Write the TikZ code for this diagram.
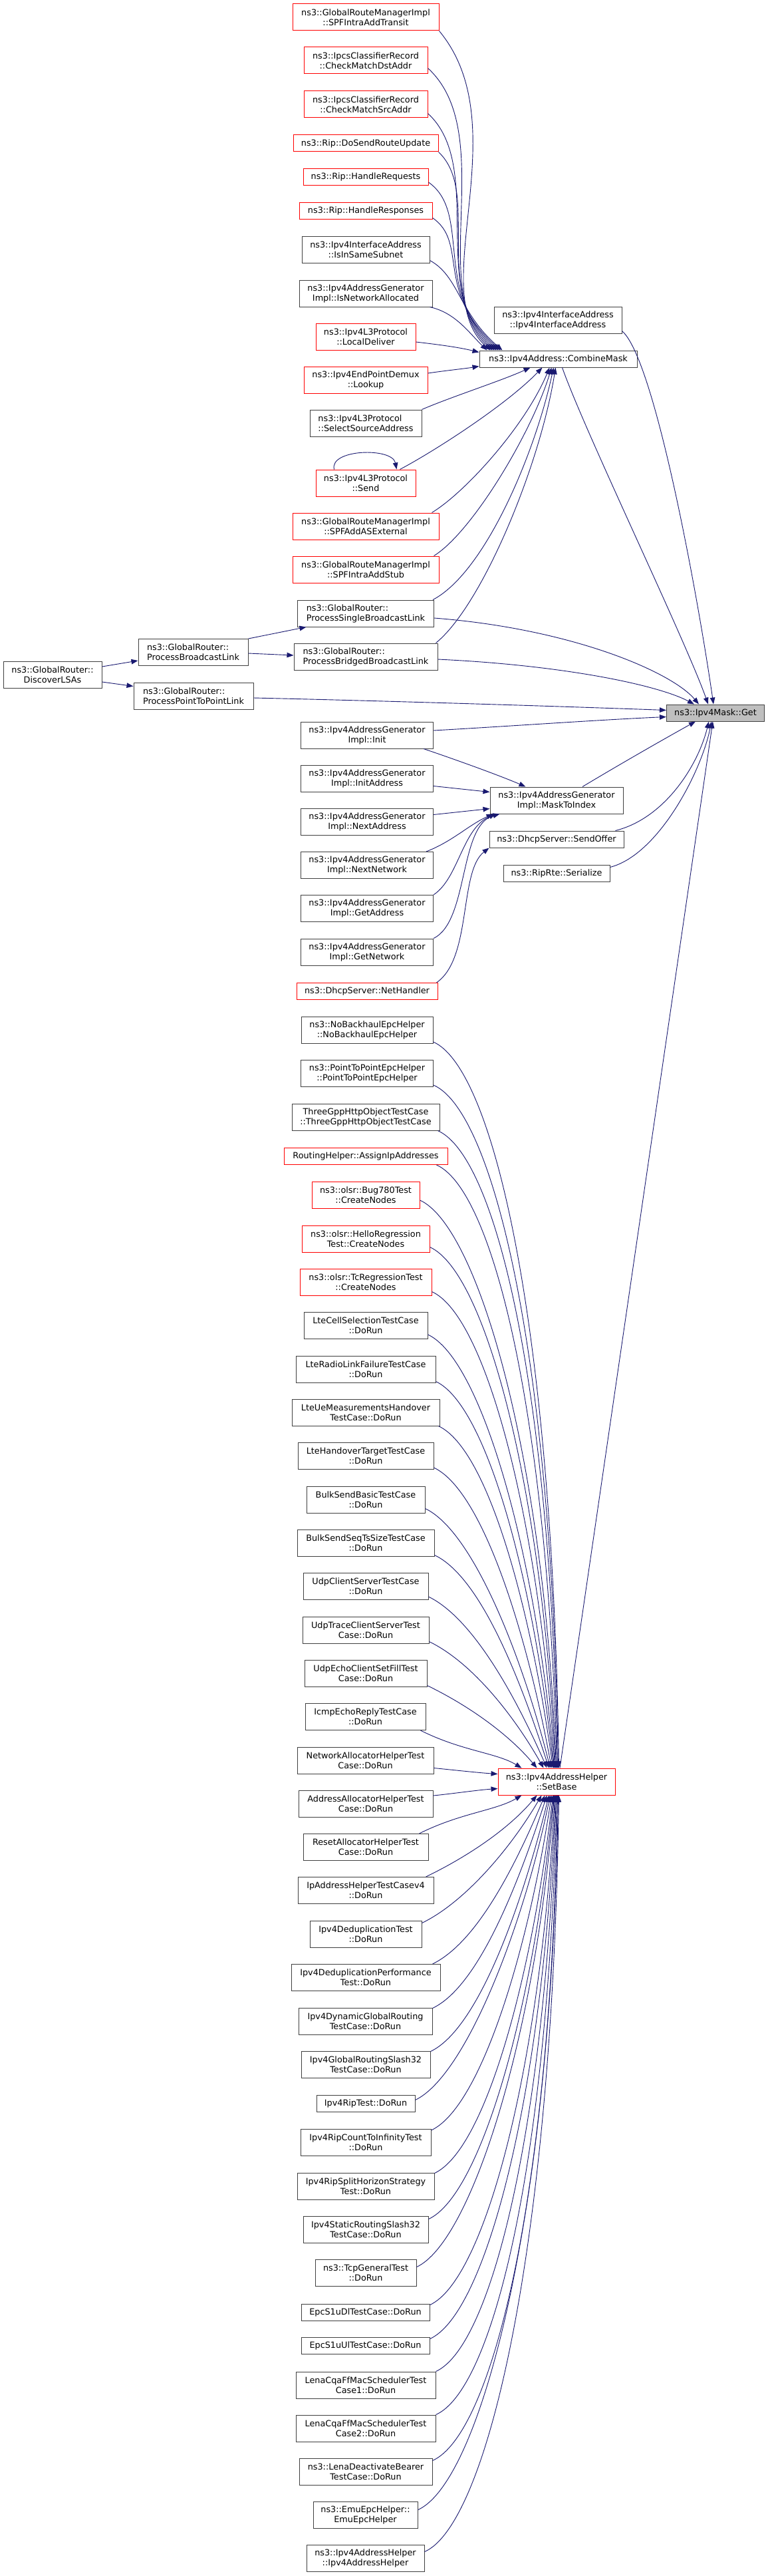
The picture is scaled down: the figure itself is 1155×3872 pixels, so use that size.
\documentclass[tikz,border=0pt]{standalone}
\usepackage{fontspec}
\setmainfont{DejaVu Sans}
\usetikzlibrary{arrows.meta}
\definecolor{edgec}{HTML}{191970}
\definecolor{redc}{HTML}{FF0000}
\definecolor{boxc}{HTML}{404040}
\definecolor{rootc}{HTML}{BFBFBF}
\tikzset{
  fn/.style={draw=boxc, line width=1pt, fill=white, rectangle, inner sep=0pt,
    minimum height=40pt, align=center, font=\fontsize{12.8}{15}\selectfont},
  one/.style={minimum height=25pt},
  rd/.style={draw=redc},
  rootnode/.style={fill=rootc},
  lft/.style={align=left},
  edge/.style={draw=edgec, line width=0.9pt, -{Triangle[length=10pt,width=7.5pt]}},
}
\begin{document}
\begin{tikzpicture}[x=1pt,y=-1pt]
\fill[white] (0,0) rectangle (1155,3872);
\useasboundingbox (0,0) rectangle (1155,3872);

% ---------- upper callers of CombineMask ----------
\node[fn,rd,minimum width=220pt] (n1) at (550,26) {ns3::GlobalRouteManagerImpl\\::SPFIntraAddTransit};
\node[fn,rd,minimum width=186pt] (n2) at (550,91) {ns3::IpcsClassifierRecord\\::CheckMatchDstAddr};
\node[fn,rd,minimum width=186pt] (n3) at (550,157) {ns3::IpcsClassifierRecord\\::CheckMatchSrcAddr};
\node[fn,rd,one,minimum width=218pt] (n4) at (550,215.5) {ns3::Rip::DoSendRouteUpdate};
\node[fn,rd,one,minimum width=188pt] (n5) at (550,266) {ns3::Rip::HandleRequests};
\node[fn,rd,one,minimum width=200pt] (n6) at (550,316.5) {ns3::Rip::HandleResponses};
\node[fn,minimum width=192pt] (n7) at (550,375) {ns3::Ipv4InterfaceAddress\\::IsInSameSubnet};
\node[fn,minimum width=200pt] (n8) at (550,441) {ns3::Ipv4AddressGenerator\\Impl::IsNetworkAllocated};
\node[fn,rd,minimum width=150pt] (n9) at (550,506) {ns3::Ipv4L3Protocol\\::LocalDeliver};
\node[fn,rd,minimum width=186pt] (n10) at (550,571) {ns3::Ipv4EndPointDemux\\::Lookup};
\node[fn,lft,minimum width=168pt] (n11) at (550,636) {ns3::Ipv4L3Protocol\\::SelectSourceAddress};
\node[fn,rd,minimum width=150pt] (n12) at (550,726) {ns3::Ipv4L3Protocol\\::Send};
\node[fn,rd,minimum width=220pt] (n13) at (550,791) {ns3::GlobalRouteManagerImpl\\::SPFAddASExternal};
\node[fn,rd,minimum width=220pt] (n14) at (550,856) {ns3::GlobalRouteManagerImpl\\::SPFIntraAddStub};
\node[fn,lft,minimum width=205pt] (psbl) at (550,922) {ns3::GlobalRouter::\\ProcessSingleBroadcastLink};
\node[fn,lft,minimum width=216pt] (pbbl) at (550,987) {ns3::GlobalRouter::\\ProcessBridgedBroadcastLink};

\node[fn,one,minimum width=237pt] (cm) at (839.5,539.5) {ns3::Ipv4Address::CombineMask};
\node[fn,minimum width=192pt] (ifa) at (839,481) {ns3::Ipv4InterfaceAddress\\::Ipv4InterfaceAddress};

\node[fn,minimum width=148pt] (dl) at (79,1014) {ns3::GlobalRouter::\\DiscoverLSAs};
\node[fn,lft,minimum width=165pt] (pbl) at (290.5,980.5) {ns3::GlobalRouter::\\ProcessBroadcastLink};
\node[fn,lft,minimum width=180pt] (pptp) at (291,1046) {ns3::GlobalRouter::\\ProcessPointToPointLink};

\node[fn,one,rootnode,minimum width=147pt] (get) at (1076,1071.5) {ns3::Ipv4Mask::Get};

% ---------- address generator ----------
\node[fn,minimum width=199pt] (init) at (552,1105) {ns3::Ipv4AddressGenerator\\Impl::Init};
\node[fn,minimum width=199pt] (ia) at (552,1170) {ns3::Ipv4AddressGenerator\\Impl::InitAddress};
\node[fn,minimum width=199pt] (nad) at (552,1235) {ns3::Ipv4AddressGenerator\\Impl::NextAddress};
\node[fn,minimum width=199pt] (nn) at (552,1300.5) {ns3::Ipv4AddressGenerator\\Impl::NextNetwork};
\node[fn,minimum width=199pt] (ga) at (552,1365.5) {ns3::Ipv4AddressGenerator\\Impl::GetAddress};
\node[fn,minimum width=199pt] (gn) at (552,1431) {ns3::Ipv4AddressGenerator\\Impl::GetNetwork};
\node[fn,rd,one,minimum width=212pt] (nh) at (552,1490) {ns3::DhcpServer::NetHandler};

\node[fn,minimum width=200pt] (mti) at (837,1203) {ns3::Ipv4AddressGenerator\\Impl::MaskToIndex};
\node[fn,one,minimum width=202pt] (so) at (837,1261.5) {ns3::DhcpServer::SendOffer};
\node[fn,one,minimum width=160pt] (rr) at (837,1312.5) {ns3::RipRte::Serialize};

% ---------- callers of SetBase ----------
\node[fn,minimum width=198pt] (nb) at (552,1548.5) {ns3::NoBackhaulEpcHelper\\::NoBackhaulEpcHelper};
\node[fn,minimum width=199pt] (p2p) at (552,1613.5) {ns3::PointToPointEpcHelper\\::PointToPointEpcHelper};
\node[fn,minimum width=222pt] (tg) at (550,1679) {ThreeGppHttpObjectTestCase\\::ThreeGppHttpObjectTestCase};
\node[fn,rd,one,minimum width=246pt] (rh) at (550,1738) {RoutingHelper::AssignIpAddresses};
\node[fn,rd,minimum width=162pt] (bug) at (550,1796.5) {ns3::olsr::Bug780Test\\::CreateNodes};
\node[fn,rd,minimum width=192pt] (hello) at (550,1862) {ns3::olsr::HelloRegression\\Test::CreateNodes};
\node[fn,rd,minimum width=198pt] (tc) at (550,1927) {ns3::olsr::TcRegressionTest\\::CreateNodes};
\node[fn,minimum width=186pt] (lcs) at (550,1992.5) {LteCellSelectionTestCase\\::DoRun};
\node[fn,minimum width=210pt] (lrl) at (550,2058) {LteRadioLinkFailureTestCase\\::DoRun};
\node[fn,minimum width=222pt] (lue) at (550,2123) {LteUeMeasurementsHandover\\TestCase::DoRun};
\node[fn,minimum width=204pt] (lht) at (550,2188.5) {LteHandoverTargetTestCase\\::DoRun};
\node[fn,minimum width=178pt] (bsb) at (550,2254) {BulkSendBasicTestCase\\::DoRun};
\node[fn,minimum width=206pt] (bss) at (550,2319) {BulkSendSeqTsSizeTestCase\\::DoRun};
\node[fn,minimum width=188pt] (ucs) at (550,2384.5) {UdpClientServerTestCase\\::DoRun};
\node[fn,minimum width=190pt] (utc) at (550,2450) {UdpTraceClientServerTest\\Case::DoRun};
\node[fn,minimum width=184pt] (uec) at (550,2515) {UdpEchoClientSetFillTest\\Case::DoRun};
\node[fn,minimum width=181pt] (icmp) at (549.5,2580.5) {IcmpEchoReplyTestCase\\::DoRun};
\node[fn,minimum width=205pt] (nah) at (549.5,2646) {NetworkAllocatorHelperTest\\Case::DoRun};
\node[fn,minimum width=202pt] (aah) at (550,2711.5) {AddressAllocatorHelperTest\\Case::DoRun};
\node[fn,minimum width=188pt] (rah) at (550,2776.5) {ResetAllocatorHelperTest\\Case::DoRun};
\node[fn,minimum width=204pt] (iph) at (550,2841.5) {IpAddressHelperTestCasev4\\::DoRun};
\node[fn,minimum width=168pt] (dd) at (550,2907) {Ipv4DeduplicationTest\\::DoRun};
\node[fn,minimum width=224pt] (ddp) at (550,2972.5) {Ipv4DeduplicationPerformance\\Test::DoRun};
\node[fn,minimum width=201pt] (dgr) at (549.5,3038) {Ipv4DynamicGlobalRouting\\TestCase::DoRun};
\node[fn,minimum width=194pt] (gr32) at (550,3103) {Ipv4GlobalRoutingSlash32\\TestCase::DoRun};
\node[fn,one,minimum width=148pt] (rip) at (550,3161.5) {Ipv4RipTest::DoRun};
\node[fn,minimum width=196pt] (ripc) at (550,3220.5) {Ipv4RipCountToInfinityTest\\::DoRun};
\node[fn,minimum width=206pt] (rips) at (550,3286) {Ipv4RipSplitHorizonStrategy\\Test::DoRun};
\node[fn,minimum width=188pt] (sr32) at (550,3351) {Ipv4StaticRoutingSlash32\\TestCase::DoRun};
\node[fn,minimum width=152pt] (tcp) at (550,3416) {ns3::TcpGeneralTest\\::DoRun};
\node[fn,one,minimum width=193pt] (edl) at (549.5,3475.5) {EpcS1uDlTestCase::DoRun};
\node[fn,one,minimum width=193pt] (eul) at (549.5,3525.5) {EpcS1uUlTestCase::DoRun};
\node[fn,minimum width=210pt] (lc1) at (550,3585) {LenaCqaFfMacSchedulerTest\\Case1::DoRun};
\node[fn,minimum width=210pt] (lc2) at (550,3650) {LenaCqaFfMacSchedulerTest\\Case2::DoRun};
\node[fn,minimum width=200pt] (ldb) at (550,3715) {ns3::LenaDeactivateBearer\\TestCase::DoRun};
\node[fn,minimum width=157pt] (emu) at (549.5,3780) {ns3::EmuEpcHelper::\\EmuEpcHelper};
\node[fn,minimum width=177pt] (iah) at (549.5,3845) {ns3::Ipv4AddressHelper\\::Ipv4AddressHelper};

\node[fn,rd,minimum width=176pt] (sb) at (837,2678) {ns3::Ipv4AddressHelper\\::SetBase};

% ---------- edges into CombineMask ----------
\draw[edge] (n1.south east) .. controls (780,190) and (638,437) .. ([xshift=17pt]cm.north west);
\draw[edge] ([yshift=9pt]n2.south east) .. controls (750,200) and (641,437) .. ([xshift=20pt]cm.north west);
\draw[edge] ([yshift=7pt]n3.south east) .. controls (730,250) and (644,437) .. ([xshift=23pt]cm.north west);
\draw[edge] (n4.south east) .. controls (725,290) and (647,437) .. ([xshift=26pt]cm.north west);
\draw[edge] ([yshift=5pt]n5.south east) .. controls (710,320) and (650,437) .. ([xshift=29pt]cm.north west);
\draw[edge] ([yshift=2pt]n6.south east) .. controls (705,365) and (653,437) .. ([xshift=32pt]cm.north west);
\draw[edge] ([yshift=4pt]n7.south east) .. controls (690,415) and (690,470) .. ([xshift=35pt]cm.north west);
\draw[edge] ([xshift=-4pt]n8.south east) .. controls (685,470) and (705,500) .. ([xshift=12pt]cm.north west);
\draw[edge] ([yshift=-8pt]n9.east) .. controls (660,518) and (690,522) .. ([yshift=-3pt]cm.north west);
\draw[edge] ([yshift=10pt]n10.east) .. controls (670,557) and (700,554) .. ([yshift=2pt]cm.south west);
\draw[edge] (n11.north east) .. controls (680,596) and (755,572) .. ([xshift=-42pt]cm.south);
\draw[edge] ([xshift=-24pt]n12.north east) .. controls (650,680) and (760,610) .. ([xshift=-24pt]cm.south);
\draw[edge] ([xshift=-11pt]n13.north east) .. controls (700,740) and (790,640) .. ([xshift=-13pt]cm.south);
\draw[edge] ([xshift=-8pt]n14.north east) .. controls (710,800) and (800,650) .. ([xshift=-10pt]cm.south);
\draw[edge] ([xshift=-2pt]psbl.north east) .. controls (730,860) and (805,680) .. ([xshift=-7pt]cm.south);
\draw[edge] ([xshift=-3pt]pbbl.north east) .. controls (725,910) and (812,700) .. ([xshift=-4pt]cm.south);
\draw[edge] ([xshift=28pt]n12.north west) .. controls (495,675) and (590,672) .. ([xshift=-29pt]n12.north east);

% ---------- edges into Get ----------
\draw[edge] ([xshift=6pt]cm.south) .. controls (880,650) and (1030,960) .. ([xshift=-11pt]get.north);
\draw[edge] ([yshift=4pt]ifa.south east) .. controls (985,540) and (1050,900) .. ([xshift=-3pt]get.north);
\draw[edge] ([yshift=-7pt]psbl.east) .. controls (860,945) and (1010,1010) .. ([xshift=-25pt]get.north);
\draw[edge] ([yshift=-4pt]pbbl.east) .. controls (850,1000) and (990,1030) .. ([xshift=-32pt]get.north);
\draw[edge] ([yshift=-3pt]pptp.east) .. controls (600,1054) and (850,1062) .. ([yshift=4pt]get.west);
\draw[edge] ([yshift=7pt]init.east) .. controls (760,1092) and (900,1082) .. ([yshift=-6pt]get.west);
\draw[edge] ([xshift=39pt]mti.north) .. controls (930,1150) and (1000,1110) .. ([xshift=-30pt]get.south);
\draw[edge] ([xshift=-13pt]so.north east) .. controls (1000,1230) and (1050,1150) .. ([xshift=-10pt]get.south);
\draw[edge] ([yshift=-4pt]rr.north east) .. controls (990,1285) and (1055,1160) .. ([xshift=-6pt]get.south);
\draw[edge] ([xshift=5pt]sb.north) -- ([xshift=-4pt]get.south);

% ---------- GlobalRouter ----------
\draw[edge] ([yshift=12pt]dl.east) -- ([yshift=-12.5pt]pbl.west);
\draw[edge] ([yshift=-11pt]dl.east) -- ([yshift=-6pt]pptp.north west);
\draw[edge] (pbl.north east) -- ([xshift=13.5pt]psbl.south west);
\draw[edge] ([yshift=-1.5pt]pbl.east) -- ([yshift=2pt]pbbl.west);

% ---------- edges into MaskToIndex / SendOffer ----------
\draw[edge] ([xshift=-15pt]init.south east) .. controls (680,1140) and (750,1165) .. ([xshift=54pt]mti.north west);
\draw[edge] ([yshift=9pt]ia.south east) -- ([yshift=-8pt]mti.north west);
\draw[edge] ([yshift=-10pt]nad.north east) -- ([yshift=8pt]mti.south west);
\draw[edge] ([xshift=-11pt]nn.north east) .. controls (680,1265) and (705,1240) .. ([xshift=5pt]mti.south west);
\draw[edge] (ga.north east) .. controls (690,1320) and (695,1245) .. ([xshift=9pt]mti.south west);
\draw[edge] (gn.north east) .. controls (705,1385) and (690,1240) .. ([xshift=15pt]mti.south west);
\draw[edge] ([xshift=-2pt]nh.north east) .. controls (710,1440) and (690,1310) .. (so.south west);

% ---------- edges into SetBase (from above) ----------
\draw[edge] ([yshift=3pt]nb.south east) .. controls +(93,41) and +(-9.5,-655) .. ([xshift=92pt]sb.north west);
\draw[edge] ([yshift=3pt]p2p.south east) .. controls +(91,40) and +(-9.4,-616) .. ([xshift=91pt]sb.north west);
\draw[edge] ([xshift=-3pt]tg.south east) .. controls +(89,40) and +(-11,-567) .. ([xshift=90pt]sb.north west);
\draw[edge] ([xshift=-17pt]rh.south east) .. controls +(87,39) and +(-14,-521) .. ([xshift=89pt]sb.north west);
\draw[edge] ([yshift=13pt]bug.south east) .. controls +(86,39) and +(-19,-477) .. ([xshift=88pt]sb.north west);
\draw[edge] ([yshift=8pt]hello.south east) .. controls +(84,38) and +(-21,-422) .. ([xshift=87pt]sb.north west);
\draw[edge] ([yshift=6pt]tc.south east) .. controls +(82,37) and +(-24,-372) .. ([xshift=86pt]sb.north west);
\draw[edge] ([yshift=7pt]lcs.south east) .. controls +(80,37) and +(-28,-327) .. ([xshift=85pt]sb.north west);
\draw[edge] ([yshift=2pt]lrl.south east) .. controls +(77,36) and +(-30,-280) .. ([xshift=84pt]sb.north west);
\draw[edge] ([xshift=-2pt]lue.south east) .. controls +(75,35) and +(-33,-238) .. ([xshift=83pt]sb.north west);
\draw[edge] ([yshift=3pt]lht.south east) .. controls +(74,35) and +(-37,-201) .. ([xshift=81pt]sb.north west);
\draw[edge] ([yshift=7pt]bsb.south east) .. controls +(72,34) and +(-42,-167) .. ([xshift=79pt]sb.north west);
\draw[edge] ([yshift=2pt]bss.south east) .. controls +(70,33) and +(-42,-130) .. ([xshift=77pt]sb.north west);
\draw[edge] ([yshift=5pt]ucs.south east) .. controls +(68,33) and +(-45,-103) .. ([xshift=74pt]sb.north west);
\draw[edge] ([yshift=3pt]utc.south east) .. controls +(66,32) and +(-43,-76) .. ([xshift=69pt]sb.north west);
\draw[edge] ([yshift=2pt]uec.south east) .. controls +(64,31) and +(-42,-50) .. ([xshift=59pt]sb.north west);
\draw[edge] ([xshift=-8pt]icmp.south east) .. controls +(62,31) and +(-38,-23) .. ([xshift=36pt]sb.north west);
% from the left
\draw[edge] ([yshift=9pt]nah.south east) .. controls +(30,3) and +(-30,-2) .. ([yshift=-9pt]sb.north west);
\draw[edge] ([yshift=-8pt]aah.north east) .. controls +(30,-3) and +(-30,2) .. ([yshift=10pt]sb.south west);
% from below
\draw[edge] ([xshift=-14pt]rah.north east) .. controls +(62,-31) and +(-39,23) .. ([xshift=36pt]sb.south west);
\draw[edge] ([xshift=-12pt]iph.north east) .. controls +(64,-31) and +(-42,50) .. ([xshift=59pt]sb.south west);
\draw[edge] ([yshift=-4pt]dd.north east) .. controls +(66,-32) and +(-45,77) .. ([xshift=66pt]sb.south west);
\draw[edge] ([xshift=-12pt]ddp.north east) .. controls +(68,-33) and +(-43,102) .. ([xshift=71pt]sb.south west);
\draw[edge] ([yshift=-1pt]dgr.north east) .. controls +(70,-33) and +(-42,130) .. ([xshift=74pt]sb.south west);
\draw[edge] ([yshift=-1pt]gr32.north east) .. controls +(72,-34) and +(-40,164) .. ([xshift=77pt]sb.south west);
\draw[edge] ([yshift=-8pt]rip.north east) .. controls +(74,-35) and +(-42,204) .. ([xshift=79pt]sb.south west);
\draw[edge] ([yshift=-2pt]ripc.north east) .. controls +(75,-35) and +(-35,232) .. ([xshift=81pt]sb.south west);
\draw[edge] ([yshift=-1pt]rips.north east) .. controls +(77,-36) and +(-31,271) .. ([xshift=83pt]sb.south west);
\draw[edge] ([yshift=-5pt]sr32.north east) .. controls +(79,-36) and +(-29,317) .. ([xshift=84pt]sb.south west);
\draw[edge] ([yshift=-12pt]tcp.north east) .. controls +(81,-37) and +(-28,367) .. ([xshift=85pt]sb.south west);
\draw[edge] ([yshift=-2pt]edl.north east) .. controls +(83,-38) and +(-22,409) .. ([xshift=86pt]sb.south west);
\draw[edge] ([yshift=-3pt]eul.north east) .. controls +(85,-38) and +(-19,448) .. ([xshift=87pt]sb.south west);
\draw[edge] (lc1.north east) .. controls +(86,-39) and +(-16,487) .. ([xshift=88pt]sb.south west);
\draw[edge] (lc2.north east) .. controls +(88,-39) and +(-13,542) .. ([xshift=89pt]sb.south west);
\draw[edge] ([yshift=-4pt]ldb.north east) .. controls +(90,-40) and +(-9.5,601) .. ([xshift=90pt]sb.south west);
\draw[edge] ([yshift=-13pt]emu.north east) .. controls +(92,-41) and +(-11,645) .. ([xshift=91pt]sb.south west);
\draw[edge] ([yshift=-11pt]iah.north east) .. controls +(94,-41) and +(-10,683) .. ([xshift=92pt]sb.south west);
\end{tikzpicture}
\end{document}
